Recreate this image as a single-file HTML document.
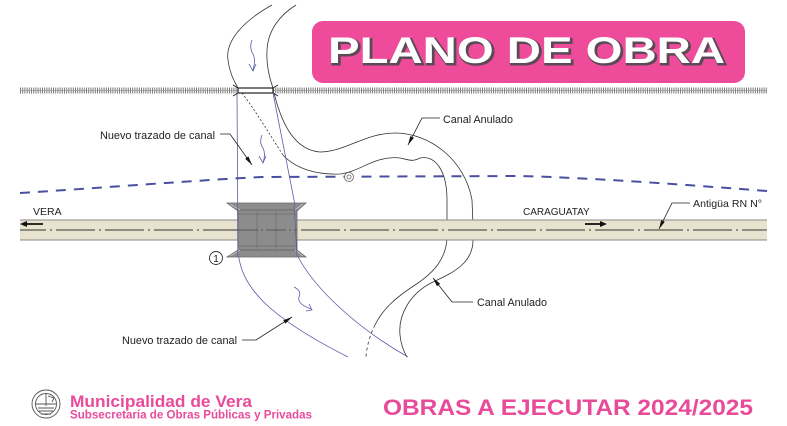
<!DOCTYPE html>
<html><head><meta charset="utf-8"><style>
html,body{margin:0;padding:0;background:#fff;}
svg{display:block;}
text{font-family:"Liberation Sans",sans-serif;}
</style></head><body>
<svg width="787" height="426" viewBox="0 0 787 426" xmlns="http://www.w3.org/2000/svg">
<rect width="787" height="426" fill="#fff"/>

<!-- title box -->
<rect x="312" y="21" width="433" height="62" rx="11" fill="#EE4C9A"/>
<text x="329.5" y="64.5" font-size="37" font-weight="bold" fill="#5a4a55" stroke="#5a4a55" stroke-width="2" textLength="397" lengthAdjust="spacingAndGlyphs">PLANO DE OBRA</text>
<text x="328" y="63" font-size="37" font-weight="bold" fill="#fff" textLength="397" lengthAdjust="spacingAndGlyphs">PLANO DE OBRA</text>

<!-- railway -->
<line x1="20" y1="90.5" x2="767" y2="90.5" stroke="#7a7a7a" stroke-width="6" stroke-dasharray="1 1.2"/>
<line x1="20" y1="90.5" x2="767" y2="90.5" stroke="#999" stroke-width="0.8"/>

<!-- upper channel -->
<g fill="none" stroke="#333" stroke-width="0.8">
<path d="M272,5 C245,20 225,40 228,60 C230,75 235,82 238,88"/>
<path d="M296,5 C280,15 268,30 267,50 C266,65 270,80 273,88"/>
<!-- canal anulado outer -->
<path d="M274,93 C282,125 295,150 320,152 C345,152 365,133 395,133 C430,133 465,160 472,200 L473,225"/>
<path d="M473,238 C474,262 455,272 433,282 C410,293 398,315 400,335 C401,345 404,352 407,357"/>
<!-- canal anulado inner -->
<path d="M283,155 C295,168 315,175 340,174 C360,172 375,155 400,158 C410,160 412,162 420,158 C435,155 447,170 447,200 L447,225"/>
<path d="M447,238 C446,258 435,272 415,285 C395,298 382,310 375,325"/>
<path d="M375,325 C370,335 367,345 366,357" stroke-dasharray="3 3"/>
<path d="M242,93 C255,110 270,135 283,155" stroke-dasharray="2 2"/>
</g>

<!-- bridge on railway -->
<rect x="238" y="88" width="35" height="5" fill="#fff" stroke="#222" stroke-width="1.2"/>
<g stroke="#222" stroke-width="1" fill="none">
<path d="M233,85 L238,88 M233,96 L238,93 M278,85 L273,88 M278,96 L273,93"/>
</g>

<!-- new channel blue -->
<g fill="none" stroke="#5a5aa8" stroke-width="0.8">
<path d="M237,93 L238,250 C240,285 265,315 348,357"/>
<path d="M273,93 L296,210 L297,255 C315,290 360,330 408,357"/>
<!-- flow arrows -->
<path d="M252,40 q-3,8 1,14 q3,6 0,16"/>
<path d="M249,64 L253,71 L256,64"/>
<path d="M262,135 q-3,8 1,13 q3,6 0,15"/>
<path d="M259,156 L263,163 L266,156"/>
<path d="M294,287 q8,4 5,10 q-2,7 12,12"/>
<path d="M306,311 L312,310 L309,304"/>
</g>

<!-- blue dashed line -->
<path d="M20,193 C100,188 200,180 262,177 L520,176 C600,178 700,186 767,191" fill="none" stroke="#4b4fa0" stroke-width="2" stroke-dasharray="10 8"/>
<circle cx="349" cy="177" r="4.5" fill="#fff" stroke="#666" stroke-width="0.8"/>
<circle cx="349" cy="177" r="2" fill="none" stroke="#666" stroke-width="0.8"/>

<!-- road -->
<rect x="20" y="220" width="747" height="20" fill="#E8E3CE"/>
<line x1="20" y1="220" x2="767" y2="220" stroke="#8a8a8a" stroke-width="1"/>
<line x1="20" y1="240" x2="767" y2="240" stroke="#8a8a8a" stroke-width="1"/>
<line x1="20" y1="230" x2="767" y2="230" stroke="#333" stroke-width="0.9" stroke-dasharray="39 4 2 4" stroke-dashoffset="13"/>

<!-- box culvert -->
<polygon points="227,203 306,203 297,211 238,211" fill="#8C8C8C" stroke="#6a6a6a" stroke-width="0.8"/>
<polygon points="238,250 297,250 306,257 227,257" fill="#8C8C8C" stroke="#6a6a6a" stroke-width="0.8"/>
<rect x="238" y="210" width="59" height="40" fill="#8C8C8C" stroke="#666" stroke-width="0.8"/>
<g stroke="#6e6e6e" stroke-width="0.7">
<line x1="257" y1="211" x2="257" y2="249"/>
<line x1="276" y1="211" x2="276" y2="249"/>
<line x1="238" y1="214" x2="297" y2="214"/>
<line x1="238" y1="246" x2="297" y2="246"/>
<line x1="238" y1="230" x2="297" y2="230" stroke="#444" stroke-dasharray="20 3 2 3"/>
</g>
<g stroke="#ddd" stroke-width="0.6" fill="none">
<path d="M230,204 L240,210 M303,204 L295,210 M230,256 L240,250 M303,256 L295,250"/>
</g>
<g fill="none" stroke="#5a5aa8" stroke-width="0.7">
<line x1="237.5" y1="203" x2="237.8" y2="257"/>
<line x1="294" y1="203" x2="297" y2="257"/>
</g>

<!-- circled 1 -->
<circle cx="216" cy="258" r="6.5" fill="#fff" stroke="#333" stroke-width="0.9"/>
<text x="216" y="261.8" font-size="10" text-anchor="middle" fill="#222">1</text>

<!-- road labels & arrows -->
<text x="33" y="215" font-size="10.5" fill="#222">VERA</text>
<line x1="26" y1="224" x2="43" y2="224" stroke="#111" stroke-width="1.8"/>
<polygon points="20,224 27,221 27,227" fill="#111"/>
<text x="523" y="215" font-size="10" fill="#222">CARAGUATAY</text>
<line x1="585" y1="224" x2="601" y2="224" stroke="#111" stroke-width="1.8"/>
<polygon points="607,224 600,221 600,227" fill="#111"/>

<!-- leaders -->
<g fill="none" stroke="#222" stroke-width="0.8">
<path d="M220,134 L230,134 L252,165"/>
<path d="M440,118 L422,118 L408,145"/>
<path d="M473,302 L452,302 L433,278"/>
<path d="M242,340 L256,340 L292,317"/>
<path d="M690,203 L672,203 L659,229"/>
</g>
<g fill="#111">
<polygon points="252,165 248.4,156.4 245.2,158.8"/>
<polygon points="408,145 413.9,137.9 410.3,136.1"/>
<polygon points="433,278 440.2,283.8 437,286.2"/>
<polygon points="292,317 285.5,323.6 283.3,320.2"/>
<polygon points="659,229 664.8,221.9 661.2,220.1"/>
</g>
<text x="100" y="139" font-size="11" fill="#222" textLength="115" lengthAdjust="spacingAndGlyphs">Nuevo trazado de canal</text>
<text x="443" y="123" font-size="11" fill="#222" textLength="70" lengthAdjust="spacingAndGlyphs">Canal Anulado</text>
<text x="477" y="306" font-size="11" fill="#222" textLength="70" lengthAdjust="spacingAndGlyphs">Canal Anulado</text>
<text x="122" y="344" font-size="11" fill="#222" textLength="115" lengthAdjust="spacingAndGlyphs">Nuevo trazado de canal</text>
<text x="693" y="207" font-size="10.5" fill="#222" textLength="69" lengthAdjust="spacingAndGlyphs">Antigüa RN N°</text>

<!-- logo -->
<g fill="none" stroke="#555" stroke-width="0.9">
<circle cx="46" cy="404" r="14"/>
<circle cx="46" cy="404" r="10.5"/>
<line x1="46" y1="394" x2="46" y2="406"/>
<line x1="36" y1="404" x2="56" y2="404"/>
<path d="M38,408 L54,408 M39,411 L53,411 M41,414 L51,414"/>
<path d="M48,396 L54,398 L52,402"/>
</g>

<!-- footer text -->
<text x="70" y="407" font-size="17" font-weight="bold" fill="#E94B9B" textLength="182" lengthAdjust="spacingAndGlyphs">Municipalidad de Vera</text>
<text x="70" y="418.5" font-size="11.5" font-weight="bold" fill="#E94B9B" textLength="242" lengthAdjust="spacingAndGlyphs">Subsecretaría de Obras Públicas y Privadas</text>
<text x="383" y="415" font-size="22" font-weight="bold" fill="#E94B9B" textLength="370" lengthAdjust="spacingAndGlyphs">OBRAS A EJECUTAR 2024/2025</text>
</svg>
</body></html>
